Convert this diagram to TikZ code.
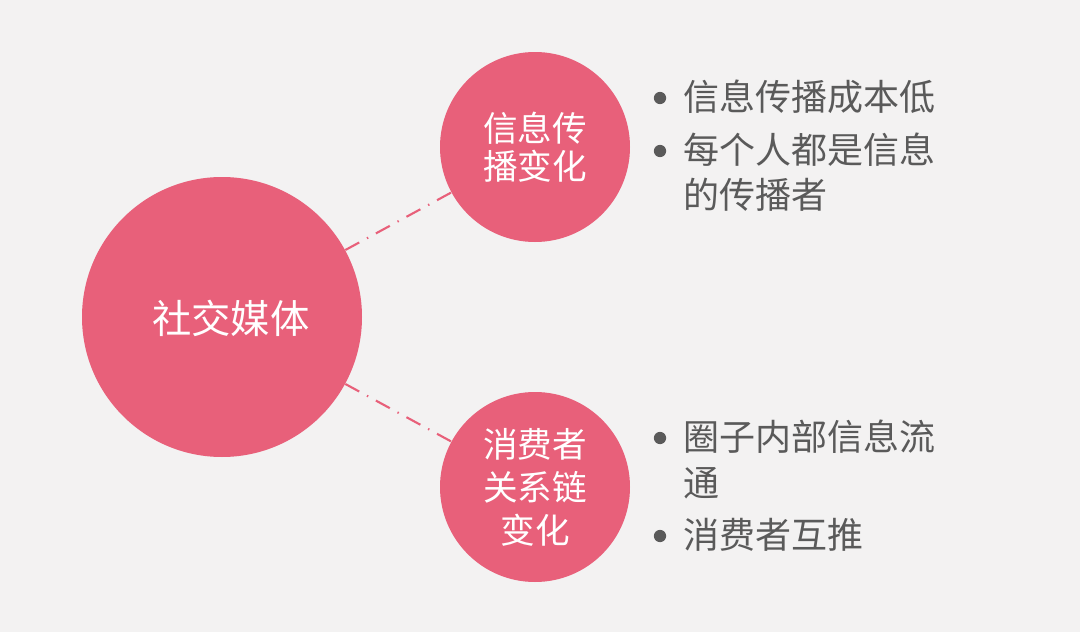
\documentclass[tikz,border=0pt]{standalone}
\usepackage{fontspec}
\setmainfont{Noto Sans CJK SC}
\definecolor{bg}{HTML}{F3F2F2}
\definecolor{rose}{HTML}{E8607A}
\definecolor{txtgray}{HTML}{5A5A5A}
\begin{document}
\begin{tikzpicture}[x=0.02cm,y=-0.02cm,
  bubble/.style={circle,fill=rose,draw=none,inner sep=0pt,text=white,align=center},
  link/.style={draw=rose,line width=1.2pt,dash pattern=on 9pt off 5pt on 0.8pt off 5pt},
  bullettext/.style={anchor=west,text=txtgray,font=\fontsize{20.5}{24}\selectfont,inner sep=0pt},
  dot/.style={circle,fill=txtgray,inner sep=0pt,minimum size=7pt}]
\fill[bg] (0,0) rectangle (1080,632);
\useasboundingbox (0,0) rectangle (1080,632);
\node[bubble,minimum size=280*0.02cm] (main) at (222,317) {};
\node[text=white,font=\fontsize{22.4}{26}\selectfont,inner sep=0pt] (mainlabel) at (231,318) {社交媒体};
\node[bubble,minimum size=190*0.02cm,font=\fontsize{19.7}{21.5}\selectfont] (top) at (535,147) {信息传\\播变化};
\node[bubble,minimum size=190*0.02cm,font=\fontsize{19.7}{24.5}\selectfont] (bot) at (535,487) {消费者\\关系链\\变化};
\draw[link] (main) -- (top);
\draw[link] (main) -- (bot);
\node[dot] (d1) at (660,98) {};
\node[bullettext] (t1) at (683,97) {信息传播成本低};
\node[dot] (d2) at (660,151) {};
\node[bullettext] (t2) at (683,150) {每个人都是信息};
\node[bullettext] (t3) at (683,195) {的传播者};
\node[dot] (d3) at (660,438) {};
\node[bullettext] (t4) at (683,437) {圈子内部信息流};
\node[bullettext] (t5) at (683,483) {通};
\node[dot] (d4) at (660,536) {};
\node[bullettext] (t6) at (683,535) {消费者互推};
\end{tikzpicture}
\end{document}
